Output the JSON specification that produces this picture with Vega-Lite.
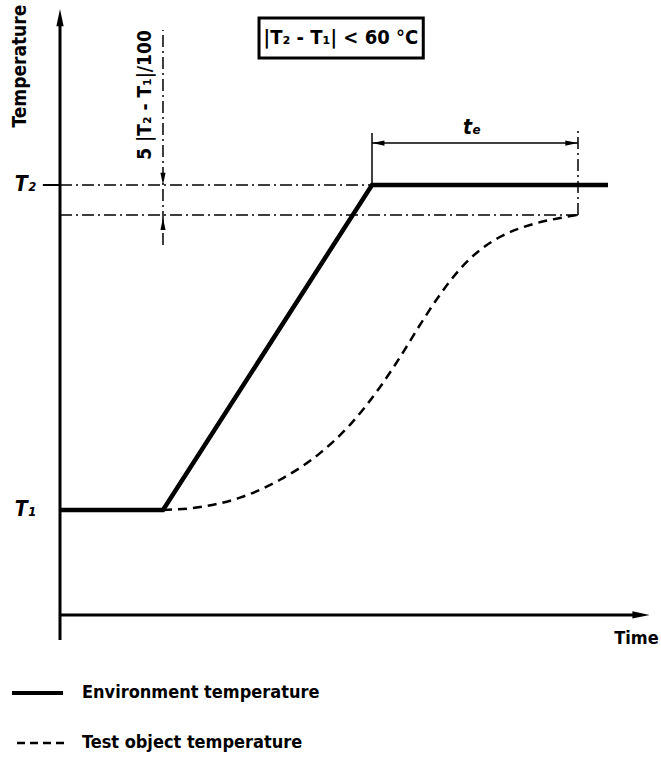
{
  "$schema": "https://vega.github.io/schema/vega-lite/v6.json",
  "width": 661,
  "height": 761,
  "padding": 0,
  "autosize": {"type": "none"},
  "background": "white",
  "config": {"view": {"stroke": null}},
  "encoding": {
    "x": {"field": "time", "type": "quantitative", "scale": {"domain": [-11.215, 112.336], "nice": false, "zero": false}, "axis": null},
    "y": {"field": "temp", "type": "quantitative", "scale": {"domain": [-77.231, 156.923], "nice": false, "zero": false}, "axis": null}
  },
  "layer": [
    {
      "data": {"values": [
        {"time": 0, "time2": 0, "temp": -40, "temp2": 151},
        {"time": 0, "time2": 107.8, "temp": -32.3, "temp2": -32.3}
      ]},
      "mark": {"type": "rule", "color": "black", "strokeWidth": 3},
      "encoding": {"x2": {"field": "time2"}, "y2": {"field": "temp2"}}
    },
    {
      "data": {"values": [
        {"time": -8.97, "time2": 0.56, "temp": -56.3, "temp2": -56.3}
      ]},
      "mark": {"type": "rule", "color": "black", "strokeWidth": 4},
      "encoding": {"x2": {"field": "time2"}, "y2": {"field": "temp2"}}
    },
    {
      "data": {"values": [
        {"time": 0, "temp": 151.5, "dir": "up"},
        {"time": 108.6, "temp": -32.3, "dir": "right"}
      ]},
      "mark": {"type": "point", "filled": true, "color": "black", "size": 300, "opacity": 1},
      "encoding": {"shape": {"field": "dir", "type": "nominal", "scale": {"domain": ["up", "right", "down", "left"], "range": ["M0,-1L0.42,1L-0.42,1Z", "M1,0L-1,0.42L-1,-0.42Z", "M0,1L0.42,-1L-0.42,-1Z", "M-1,0L1,0.42L1,-0.42Z"]}, "legend": null}}
    },
    {
      "data": {"values": [
        {"time": 0, "temp": 0},
        {"time": 19.25, "temp": 0},
        {"time": 58.32, "temp": 100},
        {"time": 102.43, "temp": 100}
      ]},
      "mark": {"type": "line", "color": "black", "strokeWidth": 4.5, "strokeJoin": "miter"},
      "encoding": {"order": {"field": "time", "type": "quantitative"}}
    },
    {
      "data": {"values": [
        {"time": 19.25, "temp": 0},
        {"time": 26.17, "temp": 0.9},
        {"time": 33.64, "temp": 3.8},
        {"time": 41.12, "temp": 9.3},
        {"time": 48.6, "temp": 17.5},
        {"time": 54.2, "temp": 26.2},
        {"time": 59.8, "temp": 37.8},
        {"time": 63.55, "temp": 47.0},
        {"time": 67.3, "temp": 57.0},
        {"time": 71.0, "temp": 66.2},
        {"time": 74.8, "temp": 74.2},
        {"time": 78.5, "temp": 80.0},
        {"time": 82.2, "temp": 84.0},
        {"time": 87.85, "temp": 87.7},
        {"time": 93.46, "temp": 89.85},
        {"time": 96.82, "temp": 90.8}
      ]},
      "mark": {"type": "line", "color": "black", "strokeWidth": 2.5, "strokeDash": [9, 6], "interpolate": "monotone"},
      "encoding": {"order": {"field": "time", "type": "quantitative"}}
    },
    {
      "data": {"values": [
        {"time": -8.04, "time2": 0.93, "temp": -71.7, "temp2": -71.7}
      ]},
      "mark": {"type": "rule", "color": "black", "strokeWidth": 2.5, "strokeDash": [8, 5]},
      "encoding": {"x2": {"field": "time2"}, "y2": {"field": "temp2"}}
    },
    {
      "data": {"values": [
        {"time": -3.2, "time2": 0, "temp": 100, "temp2": 100}
      ]},
      "mark": {"type": "rule", "color": "black", "strokeWidth": 2},
      "encoding": {"x2": {"field": "time2"}, "y2": {"field": "temp2"}}
    },
    {
      "data": {"values": [
        {"time": 0, "time2": 58.32, "temp": 100, "temp2": 100},
        {"time": 0, "time2": 96.82, "temp": 90.8, "temp2": 90.8},
        {"time": 19.25, "time2": 19.25, "temp": 81.5, "temp2": 147.7},
        {"time": 96.82, "time2": 96.82, "temp": 90.8, "temp2": 117.5}
      ]},
      "mark": {"type": "rule", "color": "black", "strokeWidth": 1.5, "strokeDash": [12, 4, 2, 4]},
      "encoding": {"x2": {"field": "time2"}, "y2": {"field": "temp2"}}
    },
    {
      "data": {"values": [
        {"time": 58.32, "time2": 58.32, "temp": 100, "temp2": 116},
        {"time": 58.32, "time2": 96.82, "temp": 112.9, "temp2": 112.9}
      ]},
      "mark": {"type": "rule", "color": "black", "strokeWidth": 1.5},
      "encoding": {"x2": {"field": "time2"}, "y2": {"field": "temp2"}}
    },
    {
      "data": {"values": [
        {"time": 59.5, "temp": 112.9, "dir": "left"},
        {"time": 95.6, "temp": 112.9, "dir": "right"},
        {"time": 19.25, "temp": 101.9, "dir": "down"},
        {"time": 19.25, "temp": 88.0, "dir": "up"}
      ]},
      "mark": {"type": "point", "filled": true, "color": "black", "size": 150, "opacity": 1},
      "encoding": {"shape": {"field": "dir", "type": "nominal", "scale": {"domain": ["up", "right", "down", "left"], "range": ["M0,-1L0.4,1L-0.4,1Z", "M1,0L-1,0.4L-1,-0.4Z", "M0,1L0.4,-1L-0.4,-1Z", "M-1,0L1,0.4L1,-0.4Z"]}, "legend": null}}
    },
    {
      "data": {"values": [
        {"time": 37.2, "time2": 67.9, "temp": 151.4, "temp2": 139.1}
      ]},
      "mark": {"type": "rect", "fill": "white", "stroke": "black", "strokeWidth": 3},
      "encoding": {"x2": {"field": "time2"}, "y2": {"field": "temp2"}}
    },
    {
      "data": {"values": [
        {"time": 52.5, "temp": 145.2, "label": "|T₂ - T₁| < 60 °C"}
      ]},
      "mark": {"type": "text", "font": "DejaVu Sans Condensed, Liberation Sans, sans-serif", "fontWeight": "bold", "fontSize": 20, "align": "center", "baseline": "middle", "color": "black"},
      "encoding": {"text": {"field": "label"}}
    },
    {
      "data": {"values": [
        {"time": 111.9, "temp": -39.7, "label": "Time"}
      ]},
      "mark": {"type": "text", "font": "DejaVu Sans Condensed, Liberation Sans, sans-serif", "fontWeight": "bold", "fontSize": 18, "align": "right", "baseline": "middle", "color": "black"},
      "encoding": {"text": {"field": "label"}}
    },
    {
      "data": {"values": [
        {"time": 4.11, "temp": -56.3, "label": "Environment temperature"},
        {"time": 4.11, "temp": -71.7, "label": "Test object temperature"}
      ]},
      "mark": {"type": "text", "font": "DejaVu Sans Condensed, Liberation Sans, sans-serif", "fontWeight": "bold", "fontSize": 18, "align": "left", "baseline": "middle", "color": "black"},
      "encoding": {"text": {"field": "label"}}
    },
    {
      "data": {"values": [
        {"time": -7.48, "temp": 136.6, "label": "Temperature"},
        {"time": 15.9, "temp": 127.7, "label": "5 |T₂ - T₁|/100"}
      ]},
      "mark": {"type": "text", "font": "DejaVu Sans Condensed, Liberation Sans, sans-serif", "fontWeight": "bold", "fontSize": 19, "align": "center", "baseline": "middle", "angle": 270, "color": "black"},
      "encoding": {"text": {"field": "label"}}
    },
    {
      "data": {"values": [
        {"time": -6.5, "temp": 100, "label": "T₂"},
        {"time": -6.5, "temp": 0, "label": "T₁"},
        {"time": 77.0, "temp": 117.5, "label": "tₑ"}
      ]},
      "mark": {"type": "text", "font": "DejaVu Sans Condensed, Liberation Sans, sans-serif", "fontWeight": "bold", "fontStyle": "italic", "fontSize": 21, "align": "center", "baseline": "middle", "color": "black"},
      "encoding": {"text": {"field": "label"}}
    }
  ]
}
